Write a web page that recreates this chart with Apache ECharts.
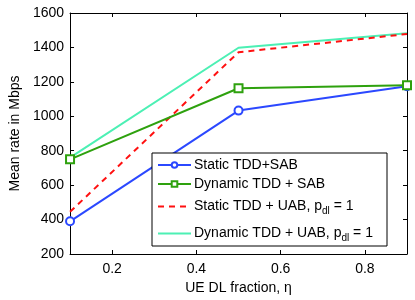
<!DOCTYPE html>
<html><head><meta charset="utf-8">
<script src="https://cdn.jsdelivr.net/npm/echarts@6/dist/echarts.min.js"></script>
<style>html,body{margin:0;padding:0;background:#fff}#c{width:415px;height:300px}</style>
</head><body><div id="c"></div>
<script>
const xVals = [0.1, 0.5, 0.9];
const xTicks = [0.2, 0.4, 0.6, 0.8];
const staticSAB = [390, 1033, 1175];
const dynamicSAB = [750, 1163, 1180];
const staticUAB = [445, 1372, 1478];
const dynamicUAB = [760, 1398, 1482];
const names = ['Static TDD+SAB', 'Dynamic TDD + SAB', 'Static TDD + UAB, p_dl = 1', 'Dynamic TDD + UAB, p_dl = 1'];

const FONT = 'Liberation Sans';
const pair = v => xVals.map((x, i) => [x, v[i]]);
const chart = echarts.init(document.getElementById('c'), null, {renderer: 'canvas'});

const legendRich = {
  n: {fontFamily: FONT, fontSize: 14, color: '#000', lineHeight: 16},
  s: {fontFamily: FONT, fontSize: 10, color: '#000', lineHeight: 16, padding: [9, 0, 0, 0]}
};
const fmt = name => {
  const p = name.split('p_dl');
  if (p.length === 1) return '{n|' + name + '}';
  return '{n|' + p[0] + 'p}{s|dl}{n|' + p[1] + '}';
};
const legendTops = [158, 177, 197, 224];
const legends = names.map((nm, i) => ({
  data: [nm], left: 157, top: legendTops[i], padding: 0, orient: 'vertical',
  itemWidth: 33, itemHeight: 7, itemGap: 0, z: 20, selectedMode: false,
  itemStyle: i >= 2 ? {opacity: 0} : {borderWidth: 1.5},
  formatter: fmt, textStyle: {rich: legendRich, padding: [0, 0, 0, -2]}
}));

const axisLine = {show: true, lineStyle: {color: '#000', width: 1}};
chart.setOption({
  animation: false,
  backgroundColor: '#fff',
  grid: {left: 63, right: 8, top: 13, bottom: 39, containLabel: false},
  legend: legends,
  graphic: [{type: 'rect', shape: {x: 152, y: 153, width: 235, height: 93},
    style: {fill: '#fff', stroke: '#000', lineWidth: 1}, z: 15}],
  xAxis: [{
    type: 'value', min: 0.1, max: 0.9, position: 'bottom',
    name: 'UE DL fraction, η', nameLocation: 'middle', nameGap: 27,
    nameTextStyle: {fontFamily: FONT, fontSize: 14, color: '#000'},
    axisLine, splitLine: {show: false},
    axisTick: {inside: true, length: 4, customValues: xTicks, lineStyle: {color: '#000'}},
    axisLabel: {customValues: xTicks, fontFamily: FONT, fontSize: 14, color: '#000', margin: 8, formatter: v => String(v)}
  }, {
    type: 'value', min: 0.1, max: 0.9, position: 'top',
    axisLine, splitLine: {show: false},
    axisTick: {inside: true, length: 4, customValues: xTicks, lineStyle: {color: '#000'}},
    axisLabel: {show: false}
  }],
  yAxis: [{
    type: 'value', min: 200, max: 1600, interval: 200, position: 'left',
    name: 'Mean rate in Mbps', nameLocation: 'middle', nameGap: 44,
    nameTextStyle: {fontFamily: FONT, fontSize: 14, color: '#000'},
    axisLine, splitLine: {show: false},
    axisTick: {inside: true, length: 4, lineStyle: {color: '#000'}},
    axisLabel: {fontFamily: FONT, fontSize: 14, color: '#000', margin: 6, formatter: v => String(v)}
  }, {
    type: 'value', min: 200, max: 1600, interval: 200, position: 'right',
    axisLine, splitLine: {show: false},
    axisTick: {inside: true, length: 4, lineStyle: {color: '#000'}},
    axisLabel: {show: false}
  }],
  series: [
    {name: names[0], type: 'line', data: pair(staticSAB), symbol: 'emptyCircle', symbolSize: 8,
     lineStyle: {color: '#2b48ff', width: 2}, itemStyle: {color: '#2b48ff', borderWidth: 1.5}, z: 4},
    {name: names[1], type: 'line', data: pair(dynamicSAB), symbol: 'emptyRect', symbolSize: 8,
     lineStyle: {color: '#2ea10e', width: 2}, itemStyle: {color: '#2ea10e', borderWidth: 1.5}, z: 4},
    {name: names[2], type: 'line', data: pair(staticUAB), symbol: 'none',
     lineStyle: {color: '#ff1010', width: 2, type: [6, 5]}, itemStyle: {color: '#ff1010'}, z: 3},
    {name: names[3], type: 'line', data: pair(dynamicUAB), symbol: 'none',
     lineStyle: {color: '#4cf0b4', width: 2}, itemStyle: {color: '#4cf0b4'}, z: 2}
  ]
});
</script></body></html>
